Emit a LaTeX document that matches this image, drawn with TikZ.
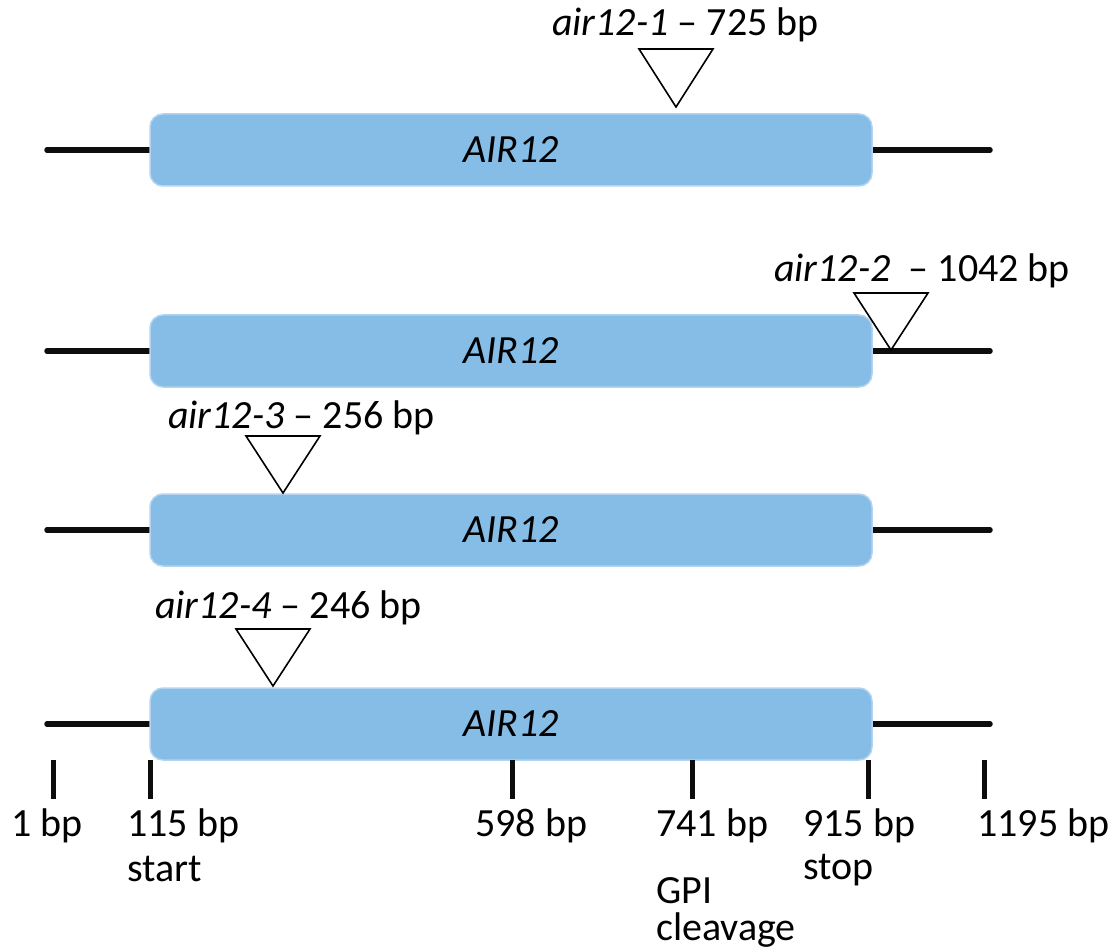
\documentclass[tikz,border=0pt]{standalone}
\usepackage{fontspec}
\setmainfont{Carlito}
\definecolor{genefill}{HTML}{85BDE6}
\definecolor{geneedge}{HTML}{B3D4F0}
\begin{document}
\begin{tikzpicture}[x=1pt,y=-1pt,
  every node/.style={font=\fontsize{40}{48}\selectfont, inner sep=0pt},
  gene/.style={draw=geneedge, line width=1.5pt, fill=genefill, rounded corners=13pt,
    minimum width=722pt, minimum height=72pt, inner sep=0pt,
    font=\fontsize{40}{48}\selectfont\itshape},
  dnaline/.style={line width=5.5pt, line cap=round, black!95},
  tickmark/.style={line width=5pt, black!95},
  insertion/.style={draw=black, line width=1.6pt, fill=white, line join=miter},
  lab/.style={anchor=base west}]
\useasboundingbox (0,0) rectangle (1116,949);

% row 1
\coordinate (l1) at (47,150); \coordinate (r1) at (990,150);
\draw[dnaline] (l1) -- (150,150);
\draw[dnaline] (872,150) -- (r1);
\node[gene] (g1) at (511,150) {AIR12};
\coordinate (t1) at (676,107);
\draw[insertion] (t1) -- ++(-37,-58) -- ++(74,0) -- cycle;
\node[lab] (a1) at (552,36) {\textit{air12-1} – 725 bp};

% row 2
\coordinate (l2) at (47,351); \coordinate (r2) at (990,351);
\draw[dnaline] (l2) -- (150,351);
\draw[dnaline] (872,351) -- (r2);
\node[gene] (g2) at (511,351) {AIR12};
\coordinate (t2) at (891,350);
\draw[insertion] (t2) -- ++(-37,-57) -- ++(74,0) -- cycle;
\node[lab] (a2) at (774,282) {\textit{air12-2}\ \ – 1042 bp};

% row 3
\coordinate (l3) at (47,530); \coordinate (r3) at (990,530);
\draw[dnaline] (l3) -- (150,530);
\draw[dnaline] (872,530) -- (r3);
\node[gene] (g3) at (511,530) {AIR12};
\coordinate (t3) at (283,493);
\draw[insertion] (t3) -- ++(-37,-57) -- ++(74,0) -- cycle;
\node[lab] (a3) at (168,428) {\textit{air12-3} – 256 bp};

% row 4
\coordinate (l4) at (47,724); \coordinate (r4) at (990,724);
\draw[dnaline] (l4) -- (150,724);
\draw[dnaline] (872,724) -- (r4);
\node[gene] (g4) at (511,724) {AIR12};
\coordinate (t4) at (273,686);
\draw[insertion] (t4) -- ++(-37,-57) -- ++(74,0) -- cycle;
\node[lab] (a4) at (155,618) {\textit{air12-4} – 246 bp};

% scale ticks
\foreach \x/\n in {53/k1,150/k2,512/k3,692/k4,868/k5,984/k6}{
  \coordinate (\n) at (\x,760);
  \draw[tickmark] (\n) -- ++(0,39);
}
\node[lab] (b1) at (11,836) {1 bp};
\node[lab] (b2) at (127,836) {115 bp};
\node[lab] (b2s) at (127,881) {start};
\node[lab] (b3) at (475,836) {598 bp};
\node[lab] (b4) at (656,836) {741 bp};
\node[lab, align=left, font=\fontsize{40}{37}\selectfont] (b4a) at (656,940) {GPI\\cleavage};
\node[lab] (b5) at (803,836) {915 bp};
\node[lab] (b5s) at (803,879) {stop};
\node[lab] (b6) at (977,836) {1195 bp};
\end{tikzpicture}
\end{document}
